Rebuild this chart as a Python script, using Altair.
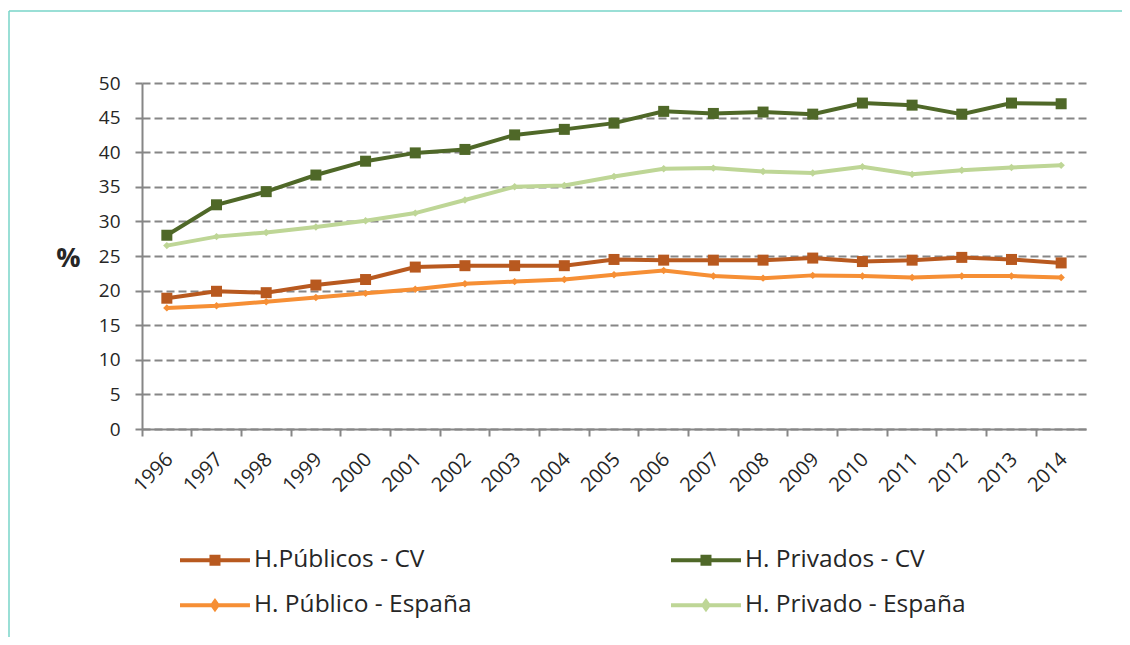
import altair as alt
import pandas as pd

years = [str(y) for y in range(1996, 2015)]
series_cv = ["H.Públicos - CV", "H. Privados - CV"]
series_es = ["H. Público - España", "H. Privado - España"]
colors_cv = ["#B8591F", "#4F6828"]
colors_es = ["#F68F35", "#BED696"]

pub_cv = [18.9, 19.9, 19.7, 20.8, 21.6, 23.4, 23.6, 23.6, 23.6, 24.5, 24.4, 24.4, 24.4, 24.7, 24.2, 24.4, 24.8, 24.5, 24.0]
priv_cv = [28.0, 32.4, 34.3, 36.7, 38.7, 39.9, 40.4, 42.5, 43.3, 44.2, 45.9, 45.6, 45.8, 45.5, 47.1, 46.8, 45.5, 47.1, 47.0]
pub_es = [17.5, 17.8, 18.4, 19.0, 19.6, 20.2, 21.0, 21.3, 21.6, 22.3, 22.9, 22.1, 21.8, 22.2, 22.1, 21.9, 22.1, 22.1, 21.9]
priv_es = [26.5, 27.8, 28.4, 29.2, 30.1, 31.2, 33.1, 35.0, 35.2, 36.5, 37.6, 37.7, 37.2, 37.0, 37.9, 36.8, 37.4, 37.8, 38.1]
y_ticks = [0, 5, 10, 15, 20, 25, 30, 35, 40, 45, 50]


def make_df(names, series_values):
    rows = []
    for s, vals in zip(names, series_values):
        for yr, v in zip(years, vals):
            rows.append({"year": yr, "value": v, "series": s})
    return pd.DataFrame(rows)


df_cv = make_df(series_cv, [pub_cv, priv_cv])
df_es = make_df(series_es, [pub_es, priv_es])

FONT = "Open Sans"
GRAY = "#868686"
TXT = "#262626"

x_enc = alt.X(
    "year:O",
    sort=years,
    bandPosition=0.5,
    scale=alt.Scale(type="band", paddingInner=0, paddingOuter=0),
    axis=alt.Axis(
        title=None, grid=False, bandPosition=0, domainColor=GRAY, domainWidth=2,
        tickColor=GRAY, tickWidth=2, tickSize=7, labelAngle=-45, labelAlign="right",
        labelBaseline="middle", labelPadding=20, labelOffset=3, labelFontSize=20,
        labelFont=FONT, labelColor=TXT,
    ),
)
y_enc = alt.Y(
    "value:Q",
    scale=alt.Scale(domain=[0, 50], nice=False),
    axis=alt.Axis(
        values=y_ticks, title="%", titleAngle=0, titleX=-74, titleY=175,
        titleAlign="center", titleBaseline="middle", titleFontSize=27,
        titleFontWeight="bold", titleFont=FONT, titleColor=TXT,
        domainColor=GRAY, domainWidth=2, tickColor=GRAY, tickWidth=2, tickSize=7,
        labelPadding=15, labelFontSize=19, labelFont=FONT, labelColor=TXT,
        grid=True, gridColor=GRAY, gridWidth=2, gridDash=[8, 4],
    ),
)

sym_square = "M-1,0L2.18,0M0.34,-0.16L0.84,-0.16M0.34,0.16L0.84,0.16"
sym_diamond = "M-1,0L2.18,0M0.47,0L0.59,-0.17L0.71,0L0.59,0.17Z"


def group_layers(df, names, cols, symbol, legend_y, col_pad, shape, size):
    scale = alt.Scale(domain=names, range=cols)
    line = alt.Chart(df).mark_line(strokeWidth=4).encode(
        x=x_enc, y=y_enc,
        color=alt.Color(
            "series:N", scale=scale, sort=names,
            legend=alt.Legend(
                title=None, orient="none", legendX=36, legendY=legend_y, columns=2,
                columnPadding=col_pad, symbolType=symbol,
                symbolSize=1936, symbolStrokeWidth=4, labelOffset=28,
                labelFontSize=24.5, labelFont=FONT, labelColor=TXT, labelLimit=400,
            ),
        ),
    )
    pts = alt.Chart(df).mark_point(filled=True, opacity=1, shape=shape, size=size).encode(
        x=x_enc, y=y_enc,
        color=alt.Color("series:N", scale=scale, sort=names, legend=None),
    )
    return line, pts


line_cv, pts_cv = group_layers(df_cv, series_cv, colors_cv, sym_square, 453, 238, "square", 121)
line_es, pts_es = group_layers(df_es, series_es, colors_es, sym_diamond, 498, 191, "diamond", 55)

frame = pd.DataFrame({"k": [0]})
frame_left = alt.Chart(frame).mark_rule(color="#78D5C8", strokeWidth=1.5).encode(
    x=alt.value(-133), y=alt.value(-72), y2=alt.value(560)
)
frame_top = alt.Chart(frame).mark_rule(color="#78D5C8", strokeWidth=1.5).encode(
    x=alt.value(-133), x2=alt.value(990), y=alt.value(-72)
)

chart = alt.layer(
    frame_left, frame_top, line_es, line_cv, pts_es, pts_cv
).resolve_scale(color="independent").properties(
    width=944, height=346,
    autosize=alt.AutoSizeParams(type="none"),
    padding={"left": 134, "top": 75, "right": 36, "bottom": 208},
).configure_view(stroke=None)

chart.save("out.html", embed_options={"renderer": "svg", "actions": False})
